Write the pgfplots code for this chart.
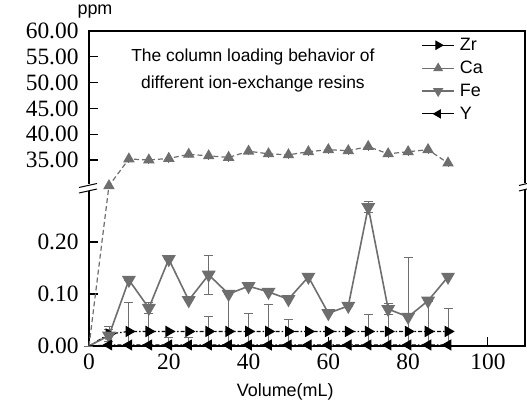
\documentclass[border=0pt]{standalone}
\usepackage{fontspec}
\setmainfont{Liberation Serif}
\newfontfamily\arial{Liberation Sans}
\usepackage{pgfplots}
\pgfplotsset{compat=1.18}
\definecolor{elgray}{HTML}{6E6E6E}

\begin{document}
\begin{tikzpicture}
\useasboundingbox (-89bp,-62bp) rectangle (438bp,346bp);
\begin{axis}[
    scale only axis,
    width=436bp, height=315bp,
    xmin=0, xmax=109.3,
    ymin=0, ymax=60,
    % broken y axis: 0-0.3 below (slope 52), 30-60 above (slope 0.516)
    y coord trafo/.code={\pgfmathparse{ifthenelse(#1<1,#1*52,16.02+(#1-30)*0.516)}},
    clip=false,
    axis line style={black, line width=1.3bp},
    tick align=inside,
    tick pos=left,
    major tick length=9bp,
    tick style={black, line width=1.1bp},
    xtick={0,20,40,60,80,100},
    xticklabels={0,20,40,60,80,100},
    ytick={0,0.1,0.2,35,40,45,50,55,60},
    yticklabels={0.00,0.10,0.20,35.00,40.00,45.00,50.00,55.00,60.00},
    ticklabel style={font=\fontsize{23.5}{23.5}\selectfont},
    yticklabel style={xshift=-7bp},
    xticklabel style={yshift=-4bp},
    xlabel={Volume(mL)},
    xlabel style={at={(axis description cs:0.45,0)}, anchor=base, yshift=-50bp,
        font=\arial\fontsize{18}{18}\selectfont},
    legend style={at={(axis description cs:0.755,0.99)}, anchor=north west,
        draw=none, fill=none, font=\arial\fontsize{18}{18}\selectfont,
        row sep=5bp, column sep=3bp},
    legend cell align=left,
    legend image code/.code={%
        \draw[mark repeat=2,mark phase=2,#1] plot coordinates {(0bp,0bp) (16bp,0bp) (32bp,0bp)};},
    legend image post style={mark size=4.5bp, solid},
    /tikz/every even column/.append style={column sep=10bp},
    error bars/error mark options={rotate=90, mark size=4.5bp, line width=0.8bp},
]
% Zr
\addplot[black, line width=1.2bp, dash pattern=on 4bp off 2bp on 1.5bp off 2bp,
    mark=triangle*, mark size=5.5bp, mark phase=2, mark options={rotate=-90, solid}] coordinates {
    (0,0)(5,0.023)(10,0.028)(15,0.028)(20,0.028)(25,0.028)(30,0.028)(35,0.028)(40,0.028)
    (45,0.028)(50,0.028)(55,0.028)(60,0.028)(65,0.028)(70,0.028)(75,0.028)(80,0.028)
    (85,0.028)(90,0.028)
};
% Ca (error given in ppm, scaled by the upper-section slope)
\addplot[elgray, line width=1.2bp, dash pattern=on 5bp off 3bp,
    mark=triangle*, mark size=5.5bp, mark phase=2, mark options={solid},
    error bars/.cd, y dir=both, y explicit, error mark=none,
    error bar style={elgray, line width=0.8bp, solid}]
    table[x=x, y=y, y error expr=\thisrow{e}*0.516] {
x   y     e
0   0     0
5   30    0
10  35.2  0.8
15  35.0  0.8
20  35.3  0.8
25  36.1  0.8
30  35.8  0.8
35  35.5  0.8
40  36.7  0.8
45  36.2  0.8
50  36.0  0.8
55  36.6  0.8
60  37.0  0.8
65  36.8  0.8
70  37.6  0.8
75  36.2  0.8
80  36.6  0.8
85  37.0  0.8
90  34.4  0.8
};
% Fe (error scaled by the lower-section slope)
\addplot[elgray, line width=1.6bp, mark=triangle*, mark size=6.5bp, mark phase=2,
    mark options={rotate=180, solid},
    error bars/.cd, y dir=both, y explicit,
    error bar style={elgray, line width=0.8bp}]
    table[x=x, y=y, y error expr=\thisrow{e}*52] {
x   y      e
0   0      0
5   0.020  0.012
10  0.127  0
15  0.073  0.010
20  0.167  0
25  0.088  0
30  0.137  0.037
35  0.100  0
40  0.115  0
45  0.104  0
50  0.090  0
55  0.133  0
60  0.063  0
65  0.077  0
70  0.267  0.011
75  0.071  0.010
80  0.056  0
85  0.087  0
90  0.133  0
};
% Y
\addplot[black, line width=1bp, dash pattern=on 4bp off 2bp on 1.5bp off 2bp,
    mark=triangle*, mark size=5.5bp, mark phase=2, mark options={rotate=90, solid},
    error bars/.cd, y dir=plus, y explicit,
    error bar style={elgray, line width=0.8bp, solid}]
    table[x=x, y=y, y error expr=\thisrow{e}*52] {
x   y      e
0   0      0
5   0.002  0.035
10  0.002  0.081
15  0.002  0.081
20  0.002  0.015
25  0.002  0.015
30  0.002  0.054
35  0.002  0.098
40  0.002  0.061
45  0.002  0.078
50  0.002  0.050
55  0.002  0
60  0.002  0
65  0.002  0
70  0.002  0.058
75  0.002  0.058
80  0.002  0.169
85  0.002  0.083
90  0.002  0.071
};
\legend{Zr, Ca, Fe, Y}
\node[anchor=base, font=\arial\fontsize{17.5}{17.5}\selectfont] at (axis description cs:0.376,0.9016) {The column loading behavior of};
\node[anchor=base, font=\arial\fontsize{17.5}{17.5}\selectfont] at (axis description cs:0.376,0.819) {different ion-exchange resins};
\node[anchor=base, font=\arial\fontsize{18}{18}\selectfont] at (axis description cs:0,1) [xshift=6bp, yshift=16bp] {ppm};
\end{axis}
% axis break marks
\fill[white] (-4bp,155bp) rectangle (4bp,162bp);
\draw[line width=1bp] (-10bp,153bp) -- (8bp,157bp);
\draw[line width=1bp] (-10bp,158.5bp) -- (8bp,162.5bp);
\fill[white] (432bp,157bp) rectangle (440bp,163bp);
\draw[line width=1bp] (430bp,155bp) -- (442bp,158bp);
\draw[line width=1bp] (430bp,160.5bp) -- (442bp,163.5bp);
\end{tikzpicture}
\end{document}
